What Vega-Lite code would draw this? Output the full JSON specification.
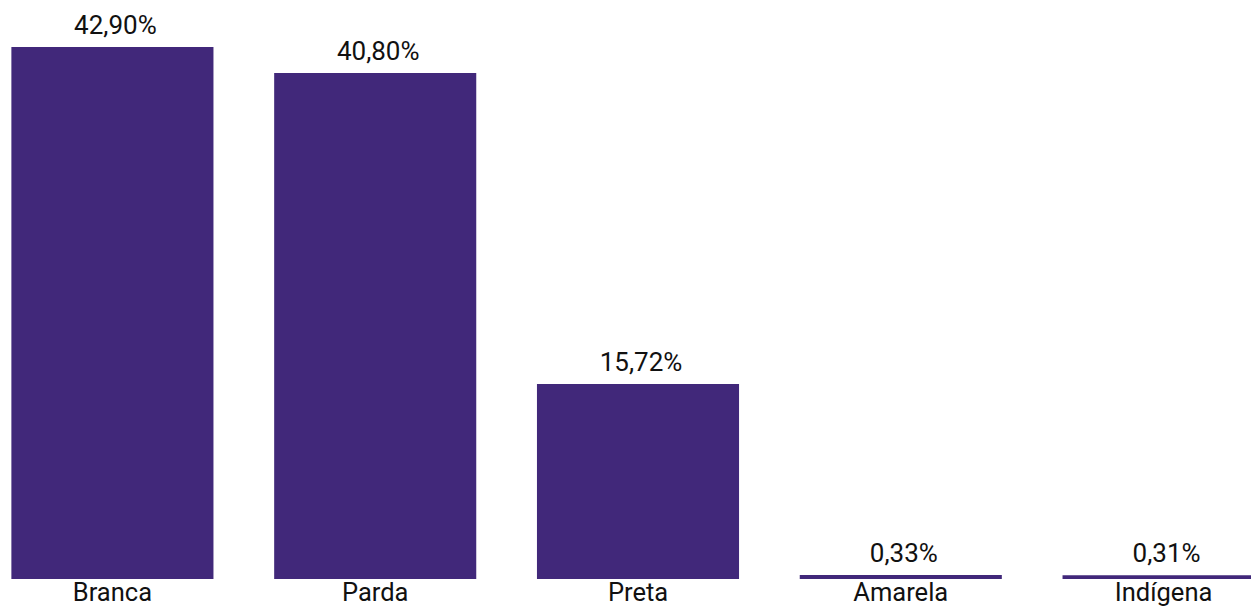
{
  "$schema": "https://vega.github.io/schema/vega-lite/v6.json",
  "width": 1251,
  "height": 579,
  "autosize": {"type": "none"},
  "padding": {"left": 0, "top": 0, "right": 0, "bottom": 29},
  "background": "white",
  "config": {"view": {"stroke": null}, "font": "Roboto"},
  "data": {
    "values": [
      {"categoria": "Branca", "percentual": 42.90, "rotulo": "42,90%"},
      {"categoria": "Parda", "percentual": 40.80, "rotulo": "40,80%"},
      {"categoria": "Preta", "percentual": 15.72, "rotulo": "15,72%"},
      {"categoria": "Amarela", "percentual": 0.33, "rotulo": "0,33%"},
      {"categoria": "Indígena", "percentual": 0.31, "rotulo": "0,31%"}
    ]
  },
  "encoding": {
    "x": {
      "field": "categoria",
      "type": "nominal",
      "sort": null,
      "scale": {"range": [-19, 1295], "paddingInner": 0.231, "paddingOuter": 0.1156},
      "axis": {
        "title": null,
        "domain": false,
        "ticks": false,
        "labelAngle": 0,
        "labelFont": "Roboto",
        "labelFontSize": 25.5,
        "labelColor": "#111111",
        "labelPadding": 1
      }
    },
    "y": {
      "field": "percentual",
      "type": "quantitative",
      "scale": {"domain": [0, 46.69], "nice": false},
      "axis": null
    }
  },
  "layer": [
    {"mark": {"type": "bar", "color": "#41287A"}},
    {
      "mark": {"type": "text", "baseline": "alphabetic", "dy": -13, "dx": 3, "font": "Roboto", "fontSize": 26, "color": "#111111"},
      "encoding": {"text": {"field": "rotulo", "type": "nominal"}}
    }
  ]
}
